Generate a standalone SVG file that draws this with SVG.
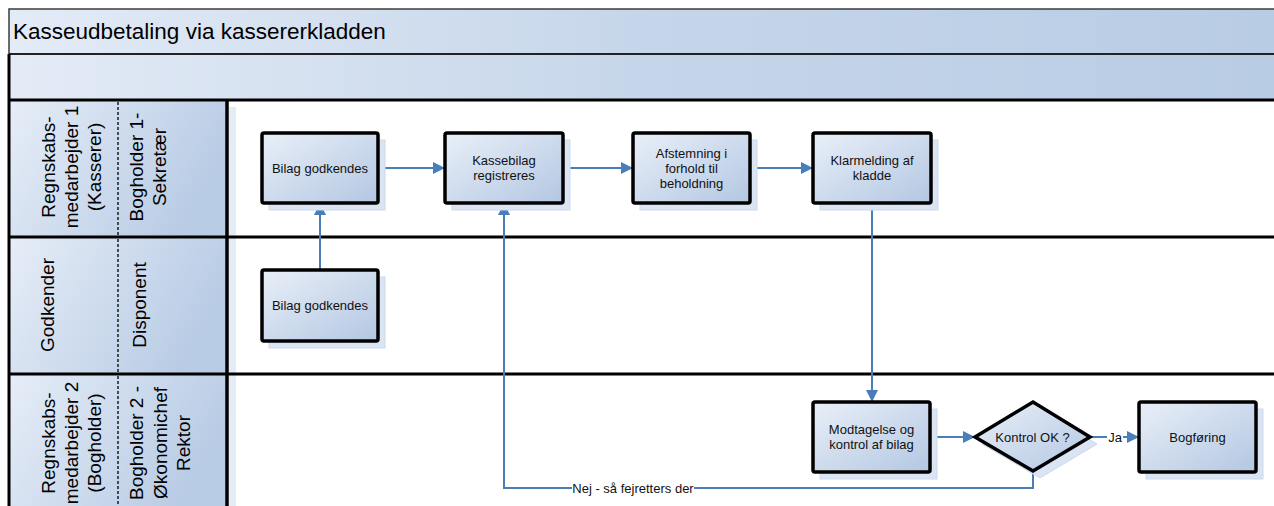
<svg xmlns="http://www.w3.org/2000/svg" width="1274" height="506" viewBox="0 0 1274 506">
<defs>
<linearGradient id="gBox" x1="0" y1="0" x2="1" y2="1">
<stop offset="0" stop-color="#e9eff8"/>
<stop offset="1" stop-color="#b3c7e2"/>
</linearGradient>
<linearGradient id="gHead" x1="0" y1="0" x2="1" y2="0.35">
<stop offset="0" stop-color="#e6edf7"/>
<stop offset="1" stop-color="#b9cce5"/>
</linearGradient>
<linearGradient id="gBar" x1="0" y1="0" x2="1" y2="0">
<stop offset="0" stop-color="#e3ebf6"/>
<stop offset="0.5" stop-color="#c6d6ea"/>
<stop offset="1" stop-color="#b8cce4"/>
</linearGradient>
<marker id="arr" markerWidth="12" markerHeight="12" refX="11" refY="6" orient="auto" markerUnits="userSpaceOnUse">
<path d="M0,0 L12,6 L0,12 Z" fill="#4a7ebb"/>
</marker>
<style>
.box{fill:url(#gBox);stroke:#000;stroke-width:3.5;}
.shadow{fill:#dae4f2;stroke:#cdd9ec;stroke-width:1;}
.t{font-family:"Liberation Sans",Arial,sans-serif;font-size:13px;fill:#111;text-anchor:middle;}
.h{font-family:"Liberation Sans",Arial,sans-serif;font-size:19px;fill:#000;text-anchor:middle;}
.conn{fill:none;stroke:#4a7ebb;stroke-width:2;}
.lane{stroke:#000;stroke-width:3;}
.dash{stroke:#000;stroke-width:1.3;stroke-dasharray:3,2;}
</style>
</defs>
<rect x="0" y="0" width="1274" height="506" fill="#ffffff"/>

<g id="frame">
<rect x="9" y="9" width="1270" height="45" fill="url(#gBar)" stroke="#3c3c3c" stroke-width="1.5"/>
<text x="13" y="39" font-family="'Liberation Sans',Arial,sans-serif" font-size="22.5" fill="#000">Kasseudbetaling via kassererkladden</text>
<rect x="9" y="54" width="1270" height="46" fill="url(#gBar)"/>
<line x1="9" y1="54" x2="1274" y2="54" stroke="#222" stroke-width="2"/>
<rect x="229" y="107" width="7" height="399" fill="#e4ecf6"/>
<rect x="9" y="100" width="218" height="137" fill="url(#gHead)"/>
<rect x="9" y="237" width="218" height="137" fill="url(#gHead)"/>
<rect x="9" y="374" width="218" height="132" fill="url(#gHead)"/>
<line x1="9" y1="54" x2="9" y2="506" stroke="#000" stroke-width="3"/>
<line x1="227" y1="100" x2="227" y2="506" stroke="#000" stroke-width="3.5"/>
<line class="lane" x1="9" y1="100" x2="1274" y2="100"/>
<line class="lane" x1="9" y1="237" x2="1274" y2="237"/>
<line class="lane" x1="9" y1="374" x2="1274" y2="374"/>
<line class="dash" x1="118" y1="102" x2="118" y2="235"/>
<line class="dash" x1="118" y1="239" x2="118" y2="372"/>
<line class="dash" x1="118" y1="376" x2="118" y2="506"/>
</g>

<g id="lane1-header">
<text class="h" transform="translate(55,167) rotate(-90)">Regnskabs-</text>
<text class="h" transform="translate(78,167) rotate(-90)">medarbejder 1</text>
<text class="h" transform="translate(101,167) rotate(-90)">(Kasserer)</text>
<text class="h" transform="translate(143,167) rotate(-90)">Bogholder 1-</text>
<text class="h" transform="translate(166,167) rotate(-90)">Sekretær</text>
</g>
<g id="lane2-header">
<text class="h" transform="translate(54,305) rotate(-90)">Godkender</text>
<text class="h" transform="translate(146,305) rotate(-90)">Disponent</text>
</g>
<g id="lane3-header">
<text class="h" transform="translate(55,443) rotate(-90)">Regnskabs-</text>
<text class="h" transform="translate(78,443) rotate(-90)">medarbejder 2</text>
<text class="h" transform="translate(101,443) rotate(-90)">(Bogholder)</text>
<text class="h" transform="translate(143,443) rotate(-90)">Bogholder 2 -</text>
<text class="h" transform="translate(166.5,443) rotate(-90)">Økonomichef</text>
<text class="h" transform="translate(190,443) rotate(-90)">Rektor</text>
</g>

<g id="connectors">
<line class="conn" x1="378" y1="168" x2="444" y2="168" marker-end="url(#arr)"/>
<line class="conn" x1="563" y1="168" x2="632" y2="168" marker-end="url(#arr)"/>
<line class="conn" x1="750" y1="168" x2="812" y2="168" marker-end="url(#arr)"/>
<line class="conn" x1="320" y1="270" x2="320" y2="204" marker-end="url(#arr)"/>
<line class="conn" x1="872" y1="203" x2="872" y2="401" marker-end="url(#arr)"/>
<line class="conn" x1="930" y1="437" x2="974" y2="437" marker-end="url(#arr)"/>
<line class="conn" x1="1090" y1="437" x2="1138" y2="437" marker-end="url(#arr)"/>
<polyline class="conn" points="1033,471 1033,488 504,488 504,204" marker-end="url(#arr)"/>
<rect x="1107" y="429" width="16" height="15" fill="#ffffff"/>
<text class="t" x="1115" y="441.5">Ja</text>
<rect x="572" y="481" width="122" height="15" fill="#ffffff"/>
<text class="t" x="633" y="493">Nej - så fejretters der</text>
</g>

<g id="n1">
<rect class="shadow" x="269" y="140" width="116" height="70"/>
<rect class="box" x="262" y="133" width="116" height="70" rx="2"/>
<text class="t" x="320" y="172.5">Bilag godkendes</text>
</g>
<g id="n2">
<rect class="shadow" x="452" y="140" width="118" height="70"/>
<rect class="box" x="445" y="133" width="118" height="70" rx="2"/>
<text class="t" x="504" y="165">Kassebilag</text>
<text class="t" x="504" y="180">registreres</text>
</g>
<g id="n3">
<rect class="shadow" x="640" y="140" width="117" height="70"/>
<rect class="box" x="633" y="133" width="117" height="70" rx="2"/>
<text class="t" x="691.5" y="157.5">Afstemning i</text>
<text class="t" x="691.5" y="172.5">forhold til</text>
<text class="t" x="691.5" y="187.5">beholdning</text>
</g>
<g id="n4">
<rect class="shadow" x="820" y="140" width="118" height="70"/>
<rect class="box" x="813" y="133" width="118" height="70" rx="2"/>
<text class="t" x="872" y="165">Klarmelding af</text>
<text class="t" x="872" y="180">kladde</text>
</g>
<g id="n5">
<rect class="shadow" x="269" y="277" width="116" height="71"/>
<rect class="box" x="262" y="270" width="116" height="71" rx="2"/>
<text class="t" x="320" y="310">Bilag godkendes</text>
</g>
<g id="n6">
<rect class="shadow" x="820" y="409" width="117" height="70"/>
<rect class="box" x="813" y="402" width="117" height="70" rx="2"/>
<text class="t" x="871.5" y="433.5">Modtagelse og</text>
<text class="t" x="871.5" y="448.5">kontrol af bilag</text>
</g>
<g id="n7">
<polygon class="shadow" points="982,444 1040,409 1097,444 1040,478"/>
<polygon class="box" points="975,437 1033,402 1090,437 1033,471" stroke-linejoin="miter"/>
<text class="t" x="1032.5" y="441.5">Kontrol OK ?</text>
</g>
<g id="n8">
<rect class="shadow" x="1146" y="409" width="117" height="70"/>
<rect class="box" x="1139" y="402" width="117" height="70" rx="2"/>
<text class="t" x="1197.5" y="441.5">Bogføring</text>
</g>
</svg>
